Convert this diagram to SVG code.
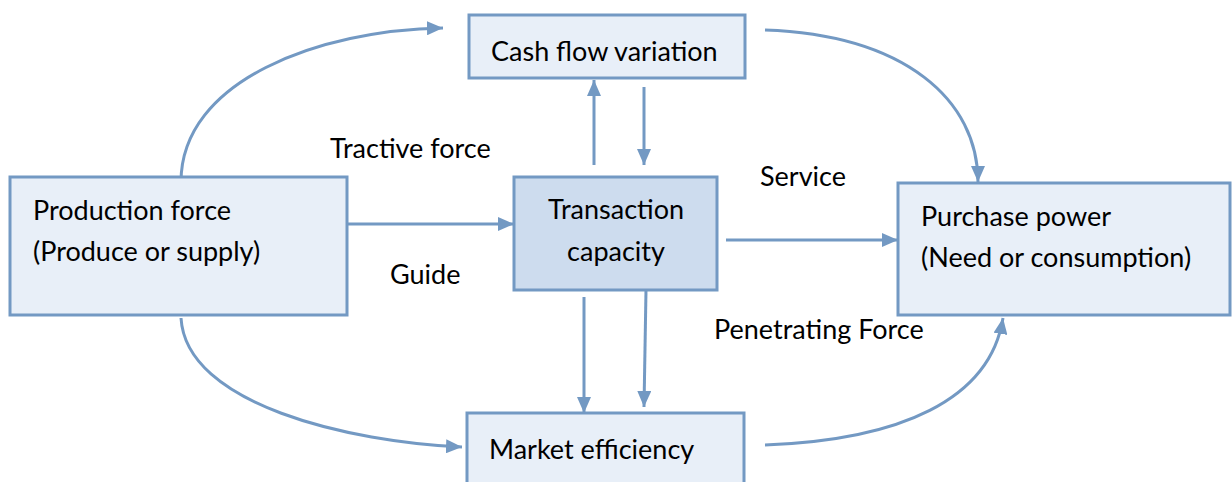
<svg xmlns="http://www.w3.org/2000/svg" width="1232" height="482" viewBox="0 0 1232 482">
  <style>
    .box { fill: #e8eff8; stroke: #7399c3; stroke-width: 3; }
    .box.core { fill: #cddcee; }
    .lbl { font-family: Lato, "Open Sans", sans-serif; font-size: 27px; fill: #000; }
    .edge { fill: none; stroke: #7399c3; stroke-width: 3; }
  </style>
  <defs>
    <marker id="arrow" viewBox="0 0 16 14" refX="16" refY="7" markerWidth="16" markerHeight="14" markerUnits="userSpaceOnUse" orient="auto">
      <path d="M0,0 L16,7 L0,14 Z" fill="#7399c3"/>
    </marker>
  </defs>
  <rect width="1232" height="482" fill="#ffffff"/>

  <g id="connectors">
    <path class="edge" marker-end="url(#arrow)" d="M181,182 C181,80 320,30 443,28"/>
    <path class="edge" marker-end="url(#arrow)" d="M765,30 C905,35 978,100 978,182"/>
    <path class="edge" marker-end="url(#arrow)" d="M181,318 C186,405 350,442 462,447"/>
    <path class="edge" marker-end="url(#arrow)" d="M765,445 C900,440 990,400 1003,318"/>
    <path class="edge" marker-end="url(#arrow)" d="M347,224 L514,224"/>
    <path class="edge" marker-end="url(#arrow)" d="M726,240 L898,240"/>
    <path class="edge" marker-end="url(#arrow)" d="M594,165 L594,80"/>
    <path class="edge" marker-end="url(#arrow)" d="M644,87 L644,165"/>
    <path class="edge" marker-end="url(#arrow)" d="M584,297 L584,413"/>
    <path class="edge" marker-end="url(#arrow)" d="M646,290 L644,407"/>
  </g>

  <g id="cash-flow">
    <rect class="box" x="469" y="15" width="276" height="63"/>
    <text class="lbl" x="491" y="61">Cash flow variation</text>
  </g>
  <g id="production">
    <rect class="box" x="10" y="177" width="337" height="138"/>
    <text class="lbl" x="33" y="220">Production force</text>
    <text class="lbl" x="33" y="261">(Produce or supply)</text>
  </g>
  <g id="transaction">
    <rect class="box core" x="514" y="177" width="203" height="113"/>
    <text class="lbl" x="616" y="219" text-anchor="middle">Transaction</text>
    <text class="lbl" x="616" y="261" text-anchor="middle">capacity</text>
  </g>
  <g id="market">
    <rect class="box" x="467" y="413" width="277" height="80"/>
    <text class="lbl" x="489" y="459">Market efficiency</text>
  </g>
  <g id="purchase">
    <rect class="box" x="898" y="183" width="332" height="132"/>
    <text class="lbl" x="921" y="226">Purchase power</text>
    <text class="lbl" x="921" y="267">(Need or consumption)</text>
  </g>

  <g id="labels">
    <text class="lbl" x="330" y="158">Tractive force</text>
    <text class="lbl" x="760" y="186">Service</text>
    <text class="lbl" x="390" y="284">Guide</text>
    <text class="lbl" x="714" y="339">Penetrating Force</text>
  </g>
</svg>
